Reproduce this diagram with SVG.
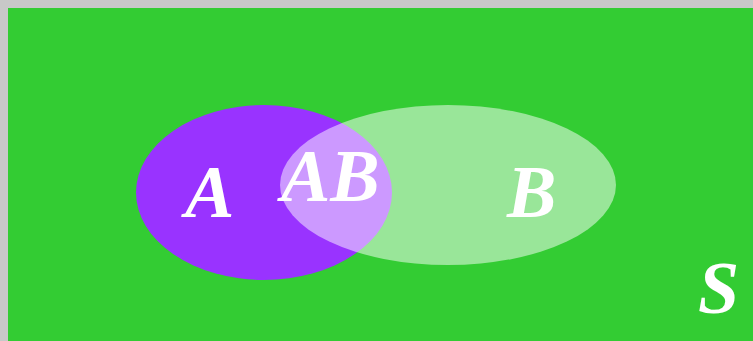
<svg xmlns="http://www.w3.org/2000/svg" width="753" height="341" viewBox="0 0 753 341">
  <style>
    .lbl { font-family: "Liberation Serif", "Times New Roman", serif; font-weight: bold; font-style: italic; font-size: 74px; fill: #ffffff; }
  </style>
  <!-- frame and universal set -->
  <rect x="0" y="0" width="753" height="341" fill="#c8c8c8"/>
  <rect id="S" x="8" y="8" width="745" height="333" fill="#33cc33"/>
  <!-- set A -->
  <g id="setA">
    <ellipse cx="264" cy="192.5" rx="128" ry="87.5" fill="#9933ff"/>
  </g>
  <!-- set B, translucent over A -->
  <g id="setB">
    <ellipse cx="448" cy="185" rx="168" ry="80" fill="#ffffff" fill-opacity="0.5"/>
  </g>
  <g id="labels">
    <text class="lbl" x="185" y="217">A</text>
    <text class="lbl" x="281" y="201">AB</text>
    <text class="lbl" x="507" y="217">B</text>
    <text class="lbl" x="698" y="313">S</text>
  </g>
</svg>
